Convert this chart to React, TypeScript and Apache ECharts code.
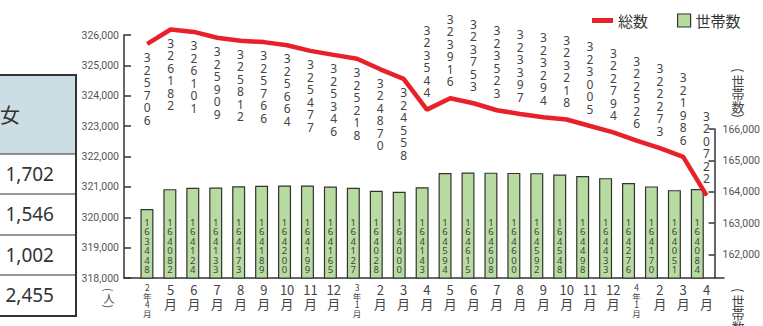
import React, { useEffect, useRef } from "react";
import * as echarts from "echarts";

const categories = ["2年4月","5月","6月","7月","8月","9月","10月","11月","12月","3年1月","2月","3月","4月","5月","6月","7月","8月","9月","10月","11月","12月","4年1月","2月","3月","4月"];
const totalPop = [325706,326182,326101,325909,325812,325766,325664,325477,325346,325218,324870,324558,323544,323916,323753,323523,323397,323294,323218,323005,322794,322526,322273,321986,320722];
const households = [163448,164082,164124,164133,164173,164189,164200,164199,164165,164127,164028,164000,164143,164594,164615,164608,164600,164592,164548,164498,164433,164276,164170,164051,164084];
const leftTicks = [318000,319000,320000,321000,322000,323000,324000,325000,326000];
const rightTicks = [162000,163000,164000,165000,166000];
const tableHeader = "女";
const tableValues = ["1,702","1,546","1,002","2,455"];

const RED = "#e8202a";
const GREEN = "#b7dba0";
const AXIS_FONT = '"Liberation Sans Narrow", Roboto, sans-serif';
const NUM_FONT = '"Noto Sans", sans-serif';
const JP_FONT = '"Noto Sans CJK JP", "Noto Sans", sans-serif';

function vertical(v: number | string) {
  return String(v).split("").join("\n");
}

// vertical axis name: rotated parentheses around stacked characters
function verticalName(chars: string, x: number, y: number, size: number) {
  const children: any[] = [];
  const parenH = size * 0.5;
  const base = { fill: "#444", align: "center", verticalAlign: "middle" };
  children.push({ type: "text", x, y: y + parenH / 2, rotation: -Math.PI / 2, style: { ...base, text: "(", font: `${size}px ${JP_FONT}` } });
  chars.split("").forEach((c, i) => {
    children.push({ type: "text", x, y: y + parenH + size * (i + 0.5), style: { ...base, text: c, font: `${size}px ${JP_FONT}` } });
  });
  children.push({ type: "text", x, y: y + parenH * 1.5 + size * chars.length, rotation: -Math.PI / 2, style: { ...base, text: ")", font: `${size}px ${JP_FONT}` } });
  return { type: "group", children };
}

export default function App() {
  const ref = useRef<HTMLDivElement>(null);
  useEffect(() => {
    if (!ref.current) return;
    const chart = echarts.init(ref.current, undefined, { renderer: "svg" });
    const idx = categories.map((_, i) => i);
    const rowTops = [154, 194, 235, 275];
    const tableGraphics: any[] = [
      { type: "rect", shape: { x: -4, y: 75, width: 80, height: 79 }, style: { fill: "#cddde4" }, z: 1 },
      { type: "text", x: 10, y: 114, style: { text: tableHeader, font: `20px ${JP_FONT}`, fill: "#333", align: "center", verticalAlign: "middle" }, z: 3 },
      ...rowTops.map((y) => ({ type: "line", shape: { x1: -4, y1: y, x2: 76, y2: y }, style: { stroke: "#333", lineWidth: 1 }, z: 3 })),
      ...tableValues.map((t, i) => ({
        type: "text", x: 54, y: rowTops[i] + 20,
        style: { text: t, font: `19px ${NUM_FONT}`, fill: "#333", align: "right", verticalAlign: "middle" }, z: 3,
      })),
      { type: "rect", shape: { x: -4, y: 75, width: 80, height: 241 }, style: { fill: "none", stroke: "#333", lineWidth: 2 }, z: 3 },
      verticalName("人", 109, 287, 11),
      verticalName("世帯数", 738, 67, 13),
      verticalName("世帯数", 738, 287, 13),
    ];

    const option: any = {
      animation: false,
      backgroundColor: "#fff",
      legend: [
        {
          data: ["総数"], left: 587, top: 8, icon: "rect", itemWidth: 21, itemHeight: 5, itemGap: 5,
          textStyle: { fontFamily: JP_FONT, fontSize: 15, color: "#333" },
        },
        {
          data: [{ name: "世帯数", itemStyle: { color: GREEN, borderColor: "#333", borderWidth: 1.2 } }],
          left: 672, top: 8, icon: "rect", itemWidth: 13, itemHeight: 13,
          textStyle: { fontFamily: JP_FONT, fontSize: 15, color: "#333" },
        },
      ],
      grid: [
        { left: 124, right: 39, top: 35, bottom: 48 },
        { left: 124, right: 39, top: 129, bottom: 48 },
      ],
      xAxis: [
        {
          type: "value", gridIndex: 0, min: -1, max: 24.75, interval: 1,
          axisLine: { onZero: false, lineStyle: { color: "#333", width: 1.5 } },
          axisTick: { show: false }, splitLine: { show: false },
          axisLabel: {
            customValues: idx, margin: 5, color: "#444",
            formatter: (v: number) => {
              const c = categories[Math.round(v)];
              if (!c) return "";
              const m = c.match(/^(\d+)年(\d+)月$/);
              if (m) return `{s|${m[1]}}\n{s|年}\n{s|${m[2]}}\n{s|月}`;
              return `{n|${c.replace("月", "")}}\n{n|月}`;
            },
            rich: {
              n: { fontFamily: JP_FONT, fontSize: 13, lineHeight: 13.5, color: "#444" },
              s: { fontFamily: JP_FONT, fontSize: 8.5, lineHeight: 8.5, color: "#444" },
            },
          },
        },
        {
          type: "value", gridIndex: 1, min: -1, max: 24.75, interval: 1, show: false,
          axisLine: { onZero: false }, splitLine: { show: false },
        },
      ],
      yAxis: [
        {
          type: "value", gridIndex: 0, position: "left", min: 318000, max: 326000, interval: 1000,
          axisLine: { show: true, onZero: false, lineStyle: { color: "#333", width: 1.5 } },
          axisTick: { show: true, inside: true, length: 7, lineStyle: { color: "#333", width: 1.5 }, customValues: leftTicks },
          splitLine: { show: false },
          axisLabel: {
            customValues: leftTicks, margin: 5, color: "#555", fontFamily: AXIS_FONT, fontSize: 10.5,
            formatter: (v: number) => v.toLocaleString("en-US"),
          },
        },
        {
          type: "value", gridIndex: 1, position: "right", min: 161250, max: 166000,
          axisLine: { show: true, onZero: false, lineStyle: { color: "#333", width: 1.5 } },
          axisTick: { show: true, inside: true, length: 6, lineStyle: { color: "#333", width: 1.5 }, customValues: rightTicks },
          splitLine: { show: false },
          axisLabel: {
            customValues: rightTicks, margin: 8, color: "#555", fontFamily: AXIS_FONT, fontSize: 10.5,
            formatter: (v: number) => v.toLocaleString("en-US"),
          },
        },
      ],
      series: [
        {
          name: "世帯数", type: "bar", xAxisIndex: 1, yAxisIndex: 1, barWidth: 13, z: 2,
          data: households.map((v, i) => [i, v]),
          itemStyle: { color: GREEN, borderColor: "#333", borderWidth: 1.2 },
          label: {
            show: true, position: "insideBottom", distance: 4,
            formatter: (p: any) => vertical(p.value[1]),
            fontFamily: NUM_FONT, fontSize: 9.5, lineHeight: 9.5, color: "#444",
          },
        },
        {
          name: "総数", type: "line", xAxisIndex: 0, yAxisIndex: 0, z: 5, clip: false,
          data: totalPop.map((v, i) => ({
            value: [i, v],
            label: { position: i < 12 ? "bottom" : "top", distance: i < 12 ? 7 : 10 },
          })),
          symbol: "circle", symbolSize: 1, showSymbol: true,
          itemStyle: { color: RED },
          lineStyle: { color: RED, width: 4.5 },
          label: {
            show: true, formatter: (p: any) => vertical(p.value[1]),
            fontFamily: NUM_FONT, fontSize: 12, lineHeight: 12.5, color: "#444",
          },
        },
      ],
      graphic: tableGraphics,
    };
    chart.setOption(option);
    return () => chart.dispose();
  }, []);
  return <div ref={ref} style={{ position: "absolute", left: 0, top: 0, width: 763, height: 326 }} />;
}
